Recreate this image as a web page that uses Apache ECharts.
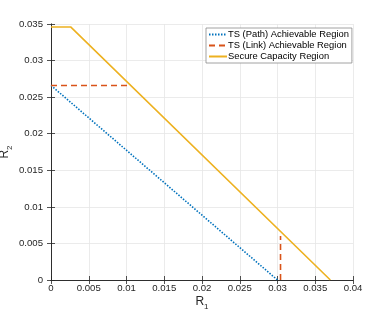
<!DOCTYPE html>
<html><head><meta charset="utf-8">
<script src="https://cdn.jsdelivr.net/npm/echarts@6/dist/echarts.min.js"></script>
<style>html,body{margin:0;padding:0;background:#fff}#c{width:390px;height:315px}</style>
</head><body><div id="c"></div>
<script>
const xTicks = [0, 0.005, 0.01, 0.015, 0.02, 0.025, 0.03, 0.035, 0.04];
const yTicks = [0, 0.005, 0.01, 0.015, 0.02, 0.025, 0.03, 0.035];
const seriesNames = ['TS (Path) Achievable Region', 'TS (Link) Achievable Region', 'Secure Capacity Region'];
const pathR1 = [0, 0.0300];
const pathR2 = [0.0266, 0];
const linkHorizR1 = [0, 0.0103];
const linkHorizR2 = [0.0266, 0.0266];
const linkVertR1 = [0.0304, 0.0304];
const linkVertR2 = [0, 0.0060];
const capR1 = [0, 0.0026, 0.0370];
const capR2 = [0.0346, 0.0346, 0];

const zip = (a, b) => a.map((v, i) => [v, b[i]]);
const font = 'Liberation Sans, Arial, sans-serif';
const txt = '#262626';
const fmt = v => String(+v.toFixed(4));

const chart = echarts.init(document.getElementById('c'), null, {renderer: 'canvas'});
const baseAxis = {
  type: 'value',
  axisLine: {show: true, lineStyle: {color: '#262626', width: 0.8}},
  axisTick: {show: true, inside: true, length: 4, lineStyle: {color: '#262626', width: 0.8}},
  axisLabel: {color: txt, fontFamily: font, fontSize: 10, formatter: fmt},
  splitLine: {show: true, lineStyle: {color: '#e6e6e6', width: 0.8}}
};
chart.setOption({
  animation: false,
  backgroundColor: '#fff',
  grid: {left: 51, right: 37, top: 24, bottom: 35, outerBoundsMode: 'none', containLabel: false},
  legend: {
    left: 206, top: 28, orient: 'vertical',
    data: seriesNames,
    itemWidth: 18, itemHeight: 8, itemGap: 2,
    padding: [2, 3, 2, 2],
    itemStyle: {opacity: 0},
    borderColor: '#8c8c8c', borderWidth: 0.8, backgroundColor: '#fff',
    textStyle: {fontFamily: font, fontSize: 9.4, color: '#000', padding: [0, 0, 0, -4]}
  },
  xAxis: [
    Object.assign({}, baseAxis, {min: 0, max: 0.04, interval: 0.005, position: 'bottom',
      axisLabel: {color: txt, fontFamily: font, fontSize: 9.6, formatter: fmt, margin: 3},
      name: '{r|R}{s|1}', nameLocation: 'middle', nameGap: 13, nameMoveOverlap: false,
      nameTextStyle: {rich: {r: {fontFamily: font, fontSize: 12, color: txt}, s: {fontFamily: font, fontSize: 8, color: txt, padding: [10, 0, 0, 0]}}}}),
    Object.assign({}, baseAxis, {min: 0, max: 0.04, interval: 0.005, position: 'top',
      axisLabel: {show: false}, splitLine: {show: false}})
  ],
  yAxis: [
    Object.assign({}, baseAxis, {min: 0, max: 0.035, interval: 0.005, position: 'left',
      axisLabel: {color: txt, fontFamily: font, fontSize: 9.6, formatter: fmt, margin: 8},
      name: '{r|R}{s|2}', nameLocation: 'middle', nameGap: 37, nameMoveOverlap: false,
      nameTextStyle: {rich: {r: {fontFamily: font, fontSize: 12, color: txt}, s: {fontFamily: font, fontSize: 8, color: txt, padding: [10, 0, 0, 0]}}}}),
    Object.assign({}, baseAxis, {min: 0, max: 0.035, interval: 0.005, position: 'right',
      axisLabel: {show: false}, splitLine: {show: false}})
  ],
  series: [
    {name: seriesNames[0], type: 'line', data: zip(pathR1, pathR2), showSymbol: false, symbol: 'none',
      lineStyle: {color: '#0072BD', width: 1.6, type: [1.5, 1.5]}, itemStyle: {color: '#0072BD'}},
    {name: seriesNames[1], type: 'line', data: zip(linkHorizR1, linkHorizR2), showSymbol: false, symbol: 'none',
      lineStyle: {color: '#D95319', width: 1.6, type: [6, 4]}, itemStyle: {color: '#D95319'}},
    {name: seriesNames[1], type: 'line', data: zip(linkVertR1, linkVertR2), showSymbol: false, symbol: 'none',
      lineStyle: {color: '#D95319', width: 1.6, type: [6, 4]}, itemStyle: {color: '#D95319'}},
    {name: seriesNames[2], type: 'line', data: zip(capR1, capR2), showSymbol: false, symbol: 'none',
      lineStyle: {color: '#EDB120', width: 1.6, type: 'solid'}, itemStyle: {color: '#EDB120'}}
  ]
});
</script></body></html>
